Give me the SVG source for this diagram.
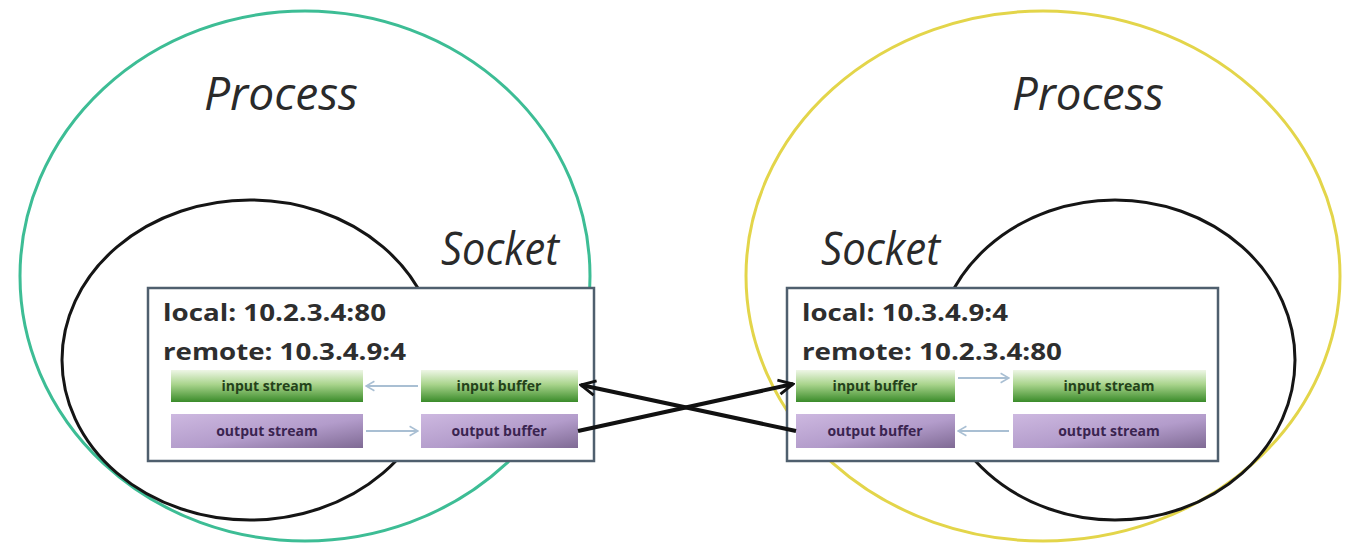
<svg xmlns="http://www.w3.org/2000/svg" width="1348" height="546" viewBox="0 0 1348 546">
<defs>
<linearGradient id="gGreen" x1="0" y1="0" x2="0" y2="1">
<stop offset="0" stop-color="#eef6e6"/>
<stop offset="0.45" stop-color="#a9d48c"/>
<stop offset="1" stop-color="#3a8b2a"/>
</linearGradient>
<linearGradient id="gPurple" x1="0" y1="0" x2="1" y2="1">
<stop offset="0" stop-color="#cdb8e0"/>
<stop offset="0.55" stop-color="#b39ccb"/>
<stop offset="1" stop-color="#7f6a94"/>
</linearGradient>
<marker id="bigArrow" viewBox="0 0 10 10" refX="9" refY="5" markerWidth="4.5" markerHeight="4.5" orient="auto">
<path d="M1,1 L9,5 L1,9" fill="none" stroke="#111" stroke-width="1.6" stroke-linejoin="miter"/>
</marker>
<marker id="smallArrow" viewBox="0 0 10 10" refX="9" refY="5" markerWidth="6" markerHeight="6" orient="auto">
<path d="M2,1 L9,5 L2,9" fill="none" stroke="#a9bfd3" stroke-width="1.3"/>
</marker>
</defs>
<style>
.title{font-family:"Open Sans","Liberation Sans",sans-serif;font-style:italic;font-size:46px;fill:#2a2a2a;}
.addr{font-family:"Open Sans","Liberation Sans",sans-serif;font-weight:bold;font-size:24px;fill:#2e2e2e;}
.box{fill:#ffffff;stroke:#4f5f6e;stroke-width:2.5;}
.gbtn{fill:url(#gGreen);}
.pbtn{fill:url(#gPurple);}
.gtxt{font-family:"Open Sans","Liberation Sans",sans-serif;font-weight:bold;font-size:14px;fill:#24421a;text-anchor:middle;}
.ptxt{font-family:"Open Sans","Liberation Sans",sans-serif;font-weight:bold;font-size:14px;fill:#3a2450;text-anchor:middle;}
.small{stroke:#a9bfd3;stroke-width:2;fill:none;marker-end:url(#smallArrow);}
.big{stroke:#111;stroke-width:4;fill:none;marker-end:url(#bigArrow);}
</style>
<rect width="1348" height="546" fill="#ffffff"/>

<g id="process-left">
<ellipse cx="305" cy="276" rx="285" ry="265" fill="none" stroke="#3dbd95" stroke-width="3"/>
<text class="title" x="204" y="110" textLength="154" lengthAdjust="spacingAndGlyphs">Process</text>
</g>
<g id="process-right">
<ellipse cx="1043" cy="276" rx="297" ry="265" fill="none" stroke="#e3d54a" stroke-width="3"/>
<text class="title" x="1012" y="110" textLength="152" lengthAdjust="spacingAndGlyphs">Process</text>
</g>

<g id="socket-left">
<ellipse cx="250" cy="360" rx="188" ry="160" fill="none" stroke="#151515" stroke-width="3"/>
<text class="title" x="441" y="265" textLength="118" lengthAdjust="spacingAndGlyphs">Socket</text>
<rect class="box" x="148" y="288" width="446" height="173"/>
<text class="addr" x="163" y="321" textLength="223" lengthAdjust="spacingAndGlyphs">local: 10.2.3.4:80</text>
<text class="addr" x="163" y="360" textLength="243" lengthAdjust="spacingAndGlyphs">remote: 10.3.4.9:4</text>
<g id="left-input-stream"><rect class="gbtn" x="171" y="370" width="192" height="32"/><text class="gtxt" x="267" y="391">input stream</text></g>
<g id="left-input-buffer"><rect class="gbtn" x="421" y="370" width="157" height="32"/><text class="gtxt" x="499" y="391">input buffer</text></g>
<g id="left-output-stream"><rect class="pbtn" x="171" y="414" width="192" height="34"/><text class="ptxt" x="267" y="436">output stream</text></g>
<g id="left-output-buffer"><rect class="pbtn" x="421" y="414" width="157" height="34"/><text class="ptxt" x="499" y="436">output buffer</text></g>
</g>

<g id="socket-right">
<ellipse cx="1115" cy="360" rx="180" ry="160" fill="none" stroke="#151515" stroke-width="3"/>
<text class="title" x="821" y="265" textLength="119" lengthAdjust="spacingAndGlyphs">Socket</text>
<rect class="box" x="787" y="288" width="431" height="173"/>
<text class="addr" x="802" y="321" textLength="206" lengthAdjust="spacingAndGlyphs">local: 10.3.4.9:4</text>
<text class="addr" x="802" y="360" textLength="260" lengthAdjust="spacingAndGlyphs">remote: 10.2.3.4:80</text>
<g id="right-input-buffer"><rect class="gbtn" x="796" y="370" width="159" height="32"/><text class="gtxt" x="875" y="391">input buffer</text></g>
<g id="right-input-stream"><rect class="gbtn" x="1013" y="370" width="193" height="32"/><text class="gtxt" x="1109" y="391">input stream</text></g>
<g id="right-output-buffer"><rect class="pbtn" x="796" y="414" width="159" height="34"/><text class="ptxt" x="875" y="436">output buffer</text></g>
<g id="right-output-stream"><rect class="pbtn" x="1013" y="414" width="193" height="34"/><text class="ptxt" x="1109" y="436">output stream</text></g>
</g>

<g id="connectors">
<line class="small" x1="418" y1="386" x2="366" y2="386"/>
<line class="small" x1="366" y1="431" x2="418" y2="431"/>
<line class="small" x1="958" y1="378" x2="1009" y2="378"/>
<line class="small" x1="1009" y1="431" x2="958" y2="431"/>
<line class="big" x1="578" y1="431" x2="793" y2="384"/>
<line class="big" x1="796" y1="431" x2="581" y2="385"/>
</g>
</svg>
